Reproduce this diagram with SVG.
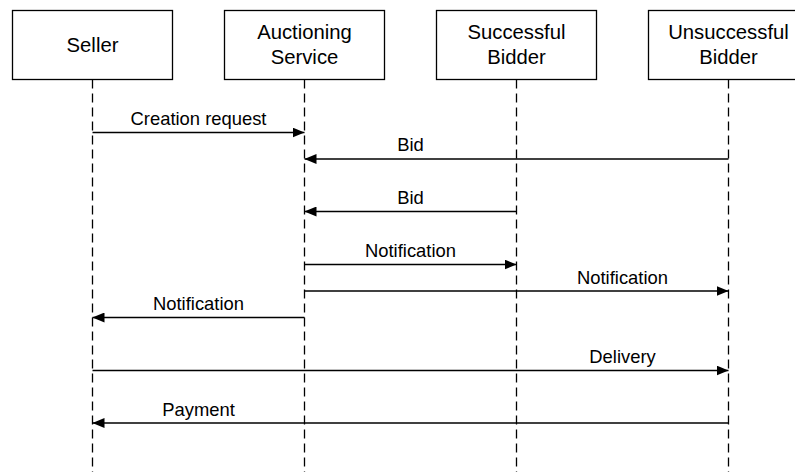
<svg xmlns="http://www.w3.org/2000/svg" width="795" height="472" viewBox="0 0 795 472">
<style>
.box{fill:#fff;stroke:#000;stroke-width:1.3}
.life{stroke:#000;stroke-width:1.3;stroke-dasharray:9 5;fill:none}
.msg{stroke:#000;stroke-width:1.3;fill:none}
.bt{font-family:"Liberation Sans",Arial,sans-serif;font-size:20.3px;fill:#000;text-anchor:middle}
.lt{font-family:"Liberation Sans",Arial,sans-serif;font-size:18.4px;fill:#000;text-anchor:middle}
</style>
<defs>
<marker id="ah" viewBox="0 0 12 10" refX="12" refY="5" markerWidth="12" markerHeight="10" markerUnits="userSpaceOnUse" orient="auto">
<path d="M0,0 L12,5 L0,10 Z" fill="#000"/>
</marker>
</defs>
<g id="seller">
<rect class="box" x="12.5" y="10.5" width="160" height="69"/>
<line class="life" x1="92.5" y1="79.5" x2="92.5" y2="472"/>
<text class="bt" x="92.5" y="52">Seller</text>
</g>
<g id="auctioning-service">
<rect class="box" x="224.5" y="10.5" width="160" height="69"/>
<line class="life" x1="304.5" y1="79.5" x2="304.5" y2="472"/>
<text class="bt" x="304.5" y="38.5">Auctioning</text>
<text class="bt" x="304.5" y="63.5">Service</text>
</g>
<g id="successful-bidder">
<rect class="box" x="436.5" y="10.5" width="160" height="69"/>
<line class="life" x1="516.5" y1="79.5" x2="516.5" y2="472"/>
<text class="bt" x="516.5" y="38.5">Successful</text>
<text class="bt" x="516.5" y="63.5">Bidder</text>
</g>
<g id="unsuccessful-bidder">
<rect class="box" x="648.5" y="10.5" width="160" height="69"/>
<line class="life" x1="728.5" y1="79.5" x2="728.5" y2="472"/>
<text class="bt" x="728.5" y="38.5">Unsuccessful</text>
<text class="bt" x="728.5" y="63.5">Bidder</text>
</g>
<g id="connectors">
<line class="msg" x1="92.5" y1="132.5" x2="304.5" y2="132.5" marker-end="url(#ah)"/>
<text class="lt" x="198.5" y="125">Creation request</text>
<line class="msg" x1="728.5" y1="159" x2="304.5" y2="159" marker-end="url(#ah)"/>
<text class="lt" x="410.5" y="151">Bid</text>
<line class="msg" x1="516.5" y1="211.5" x2="304.5" y2="211.5" marker-end="url(#ah)"/>
<text class="lt" x="410.5" y="204">Bid</text>
<line class="msg" x1="304.5" y1="264.5" x2="516.5" y2="264.5" marker-end="url(#ah)"/>
<text class="lt" x="410.5" y="257">Notification</text>
<line class="msg" x1="304.5" y1="291" x2="728.5" y2="291" marker-end="url(#ah)"/>
<text class="lt" x="622.5" y="283.5">Notification</text>
<line class="msg" x1="304.5" y1="317.5" x2="92.5" y2="317.5" marker-end="url(#ah)"/>
<text class="lt" x="198.5" y="310">Notification</text>
<line class="msg" x1="92.5" y1="370.5" x2="728.5" y2="370.5" marker-end="url(#ah)"/>
<text class="lt" x="622.5" y="363">Delivery</text>
<line class="msg" x1="728.5" y1="423" x2="92.5" y2="423" marker-end="url(#ah)"/>
<text class="lt" x="198.5" y="415.5">Payment</text>
</g>
</svg>
